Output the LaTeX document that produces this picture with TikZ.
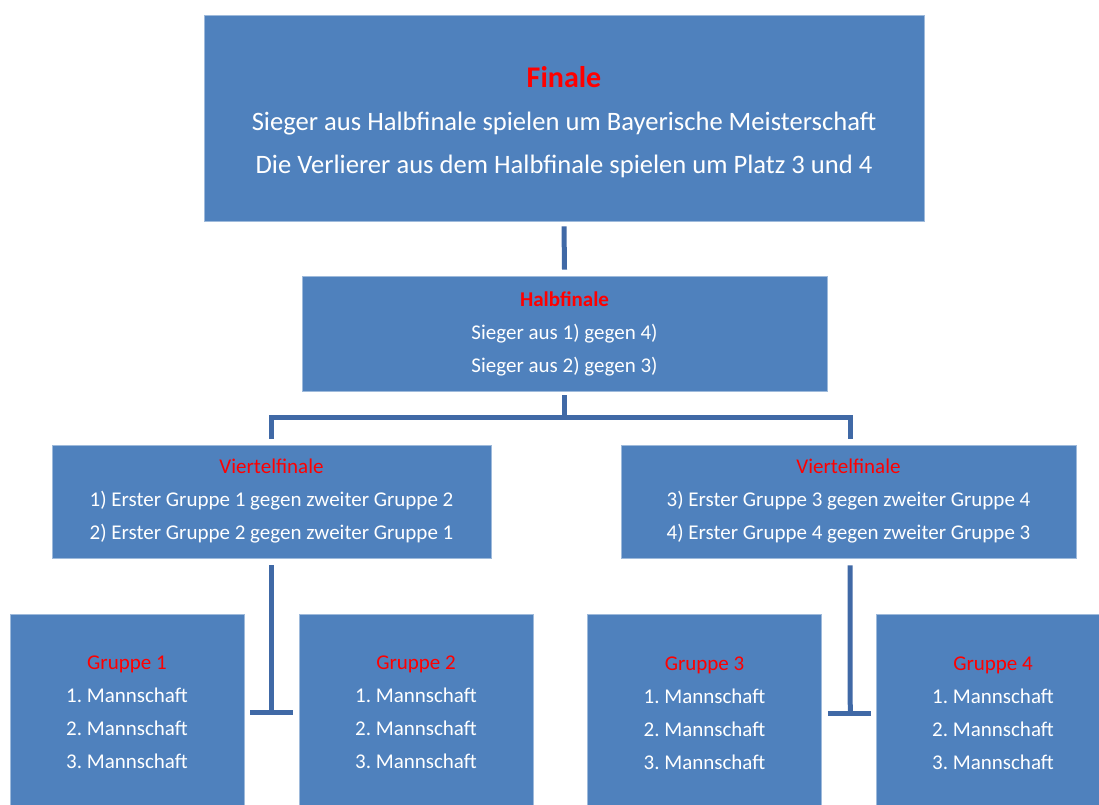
\documentclass[tikz,border=0pt]{standalone}
\usepackage{fontspec}
\setmainfont{Carlito}
\usetikzlibrary{calc}
\definecolor{boxblue}{HTML}{4F81BD}
\definecolor{linkblue}{HTML}{4069A6}
\definecolor{titlered}{HTML}{FF0000}
\frenchspacing

\begin{document}
\begin{tikzpicture}[x = 1pt, y = -1pt,
 box/.style = {fill = boxblue, draw = boxblue!55!white, line width = .8pt, text = white, align = center, inner sep = 0pt},
 link/.style = {draw = linkblue, line width = 5pt},
 small/.style = {font = \fontsize{21}{33}\selectfont},
 group/.style = {box, small, minimum width = 234pt, minimum height = 196pt}]
 \useasboundingbox (0, 0) rectangle (1099, 804);
 \clip (0, 0) rectangle (1099, 804);
 \node[box, minimum width = 720pt, minimum height = 206pt, font = \fontsize{26.6}{43}\selectfont] (fin) at (564, 118)
  {{\color{titlered}\fontsize{30}{43}\selectfont\bfseries\rule{0pt}{29pt}Finale}\\
   Sieger aus Halbfinale spielen um Bayerische Meisterschaft\\
   Die Verlierer aus dem Halbfinale spielen um Platz 3 und 4};
 \node[box, small, minimum width = 525pt, minimum height = 115pt] (hf) at (564.5, 333.5)
  {{\color{titlered}\bfseries Halbfinale}\\ Sieger aus 1) gegen 4)\\ Sieger aus 2) gegen 3)};
 \node[box, small, minimum width = 439pt, minimum height = 113pt] (vfl) at (271.5, 501.5)
  {{\color{titlered}Viertelfinale}\\ 1) Erster Gruppe 1 gegen zweiter Gruppe 2\\ 2) Erster Gruppe 2 gegen zweiter Gruppe 1};
 \node[box, small, minimum width = 455pt, minimum height = 113pt] (vfr) at (848.5, 501.5)
  {{\color{titlered}Viertelfinale}\\ 3) Erster Gruppe 3 gegen zweiter Gruppe 4\\ 4) Erster Gruppe 4 gegen zweiter Gruppe 3};
 \node[group] (g1) at (127, 712) {{\color{titlered}Gruppe 1}\\ 1. Mannschaft\\ 2. Mannschaft\\ 3. Mannschaft};
 \node[group] (g2) at (416, 712) {{\color{titlered}Gruppe 2}\\ 1. Mannschaft\\ 2. Mannschaft\\ 3. Mannschaft};
 \node[group, minimum height = 198pt] (g3) at (704.5, 713) {{\color{titlered}Gruppe 3}\\ 1. Mannschaft\\ 2. Mannschaft\\ 3. Mannschaft};
 \node[group, minimum height = 198pt] (g4) at (993, 713) {{\color{titlered}Gruppe 4}\\ 1. Mannschaft\\ 2. Mannschaft\\ 3. Mannschaft};
 \coordinate (t1) at ($(g1.east)!.5!(g2.west)$);
 \coordinate (t2) at ($(g3.east)!.5!(g4.west)$);
 \draw[link] ([yshift = -5pt]fin.south) -- ([yshift = 6pt]hf.north);
 \draw[link] ([yshift = -4pt]hf.south) -- ++(0, 22) -| ([yshift = 6pt]vfl.north);
 \draw[link] ([yshift = -4pt]hf.south) -- ++(0, 22) -| ([xshift = 1.5pt, yshift = 6pt]vfr.north);
 \draw[link] ([yshift = -7pt]vfl.south) -- (t1);
 \draw[link] ([xshift = 6pt]g1.east) -- ([xshift = -6pt]g2.west);
 \draw[link] ([xshift = 1.5pt, yshift = -7pt]vfr.south) -- ([xshift = 1.5pt]t2);
 \draw[link] ([xshift = 6pt]g3.east) -- ([xshift = -5pt]g4.west);
\end{tikzpicture}
\end{document}
